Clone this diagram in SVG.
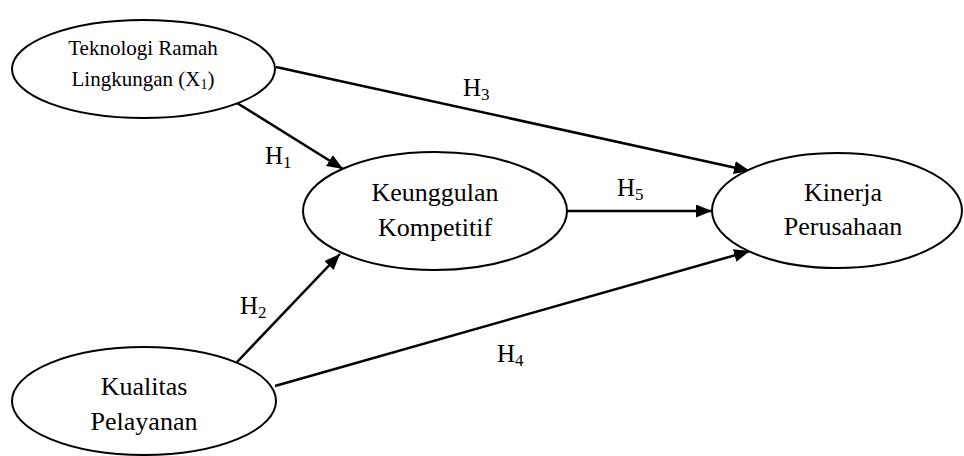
<svg xmlns="http://www.w3.org/2000/svg" width="964" height="456" viewBox="0 0 964 456">
<style>
.node ellipse{fill:#fff;stroke:#000;stroke-width:2}
.t{font-family:"Liberation Serif","Times New Roman",serif;fill:#000;text-anchor:middle}
.big{font-size:26px}
.small{font-size:21px}
.lbl{font-family:"Liberation Serif","Times New Roman",serif;font-size:25px;fill:#000}
.sub{font-size:17px}
.conn line{stroke:#000;stroke-width:2.5;fill:none}
</style>
<defs>
<marker id="arr" markerUnits="userSpaceOnUse" markerWidth="17" markerHeight="14" refX="16" refY="6.5" orient="auto">
<path d="M0,0 L16,6.5 L0,13 z" fill="#000"/>
</marker>
</defs>
<rect width="964" height="456" fill="#fff"/>
<g id="connectors" class="conn">
<line x1="237" y1="103" x2="343" y2="169" marker-end="url(#arr)"/>
<line x1="276" y1="67" x2="750" y2="171" marker-end="url(#arr)"/>
<line x1="567" y1="211" x2="712" y2="211" marker-end="url(#arr)"/>
<line x1="237" y1="362" x2="340" y2="254" marker-end="url(#arr)"/>
<line x1="275" y1="386" x2="750" y2="251" marker-end="url(#arr)"/>
</g>
<g id="labels">
<text class="lbl" x="265" y="164">H<tspan class="sub" dy="4">1</tspan></text>
<text class="lbl" x="240" y="314">H<tspan class="sub" dy="4">2</tspan></text>
<text class="lbl" x="463" y="96">H<tspan class="sub" dy="4">3</tspan></text>
<text class="lbl" x="497" y="362">H<tspan class="sub" dy="4">4</tspan></text>
<text class="lbl" x="617" y="196">H<tspan class="sub" dy="4">5</tspan></text>
</g>
<g id="node-teknologi" class="node">
<ellipse cx="143.5" cy="69" rx="131.5" ry="49"/>
<text class="t small" x="143" y="55">Teknologi Ramah</text>
<text class="t small" x="143" y="86">Lingkungan (X<tspan font-size="14" dy="3">1</tspan><tspan dy="-3">)</tspan></text>
</g>
<g id="node-keunggulan" class="node">
<ellipse cx="435" cy="211" rx="132" ry="59"/>
<text class="t big" x="435" y="201">Keunggulan</text>
<text class="t big" x="435" y="236">Kompetitif</text>
</g>
<g id="node-kinerja" class="node">
<ellipse cx="837" cy="210.5" rx="125" ry="57.5"/>
<text class="t big" x="843" y="201">Kinerja</text>
<text class="t big" x="843" y="235">Perusahaan</text>
</g>
<g id="node-kualitas" class="node">
<ellipse cx="144" cy="401" rx="132" ry="54"/>
<text class="t big" x="144" y="395">Kualitas</text>
<text class="t big" x="144" y="430">Pelayanan</text>
</g>
</svg>
